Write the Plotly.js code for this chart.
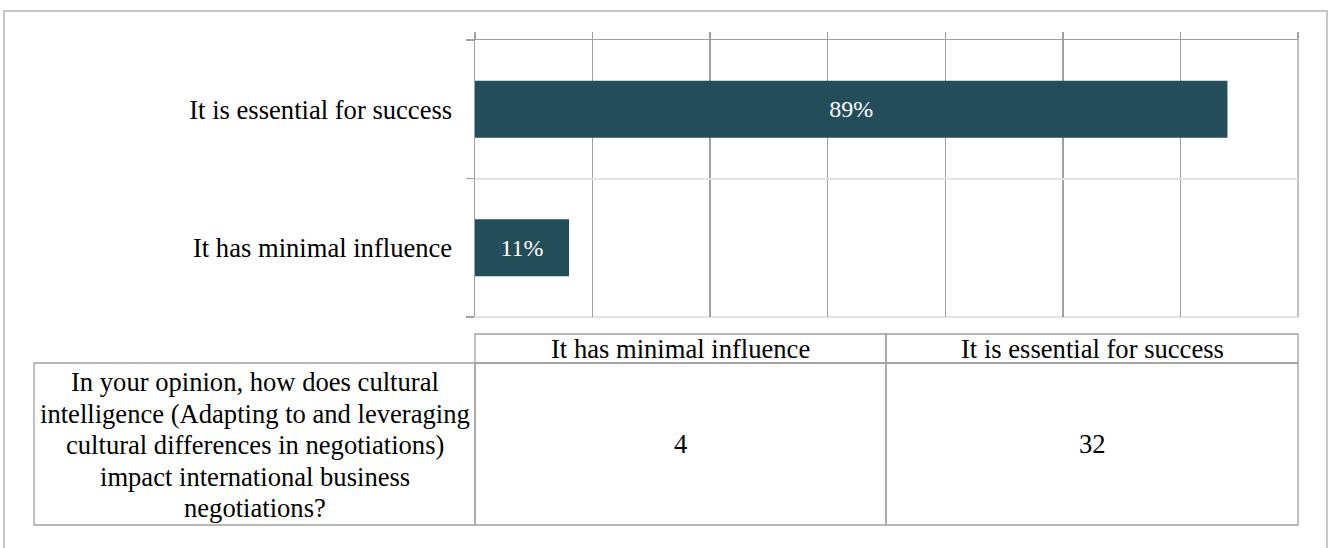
<!DOCTYPE html>
<html>
<head>
<meta charset="utf-8">
<script src="https://cdn.plot.ly/plotly-3.0.1.min.js"></script>
<style>
html,body{margin:0;padding:0;background:#fff;}
#chart{width:1333px;height:548px;}
</style>
</head>
<body>
<div id="chart"></div>
<script>
// ---- data ----
const categories = ["It has minimal influence", "It is essential for success"];
const counts = [4, 32];
const percentLabels = ["11%", "89%"];
const tableHeaders = ["It has minimal influence", "It is essential for success"];
const tableValues = [4, 32];
const questionLines = [
  "In your opinion, how does cultural",
  "intelligence (Adapting to and leveraging",
  "cultural differences in negotiations)",
  "impact international business",
  "negotiations?"
];

// ---- layout geometry (pixels) ----
const W = 1333, H = 548;
const L = 475, R = 1298, T = 40, B = 317;
const px = v => (v - L) / (R - L);
const py = v => (B - v) / (B - T);

const gray = "#a0a0a0";
const serif = "'Liberation Serif', 'Times New Roman', serif";
const FS = 26.6;

const tbl = {left: 34, mid: 475, split: 886, right: 1298, top: 334, hdrBottom: 363, bottom: 525};

const shapes = [];
function rect(x0, y0, x1, y1, color, w) {
  shapes.push({type: "rect", xref: "paper", yref: "paper",
    x0: px(x0), x1: px(x1), y0: py(y0), y1: py(y1),
    line: {color: color, width: w}, fillcolor: "rgba(0,0,0,0)", layer: "above"});
}
function vline(x, y0, y1, color, w, layer) {
  shapes.push({type: "line", xref: "paper", yref: "paper", x0: x, x1: x, y0: y0, y1: y1,
    line: {color: color, width: w}, layer: layer || "above"});
}
// outer frame
rect(4, 11, 1327, 560, "#b4b4b4", 1.5);
// bottom category boundary line
shapes.push({type: "line", xref: "paper", yref: "paper", x0: 0, x1: 1, y0: 0, y1: 0,
  line: {color: "#e3e3e3", width: 2}, layer: "below"});
// edge gridline / tick marks at the ends of the value axis
vline(1, 0, py(33), gray, 1.3, "below");
vline(0, 1, py(33), gray, 1.3, "above");
// table cells
rect(tbl.mid, tbl.top, tbl.split, tbl.hdrBottom, gray, 1.3);
rect(tbl.split, tbl.top, tbl.right, tbl.hdrBottom, gray, 1.3);
rect(tbl.left, tbl.hdrBottom, tbl.mid, tbl.bottom, gray, 1.3);
rect(tbl.mid, tbl.hdrBottom, tbl.split, tbl.bottom, gray, 1.3);
rect(tbl.split, tbl.hdrBottom, tbl.right, tbl.bottom, gray, 1.3);

const annotations = [];
function txt(x, y, s) {
  annotations.push({xref: "paper", yref: "paper", x: px(x), y: py(y), text: s,
    showarrow: false, xanchor: "center", yanchor: "middle",
    font: {family: serif, size: FS, color: "#000"}});
}
const colCenters = [(tbl.mid + tbl.split) / 2, (tbl.split + tbl.right) / 2];
tableHeaders.forEach((h, i) => txt(colCenters[i], (tbl.top + tbl.hdrBottom) / 2, h));
tableValues.forEach((v, i) => txt(colCenters[i], (tbl.hdrBottom + tbl.bottom) / 2, String(v)));
const lineH = 31.5;
const qMid = (tbl.hdrBottom + tbl.bottom) / 2 + 1;
questionLines.forEach((s, i) => txt((tbl.left + tbl.mid) / 2, qMid + (i - (questionLines.length - 1) / 2) * lineH, s));

const trace = {
  type: "bar", orientation: "h",
  y: categories, x: counts,
  text: percentLabels, textposition: "inside", insidetextanchor: "middle",
  textangle: 0, constraintext: "none",
  textfont: {family: serif, size: 24, color: "#ffffff"},
  marker: {color: "#244d5a", line: {width: 0}},
  width: 0.41, hoverinfo: "skip"
};

const layout = {
  width: W, height: H,
  margin: {l: L, r: W - R, t: T, b: H - B, pad: 0},
  paper_bgcolor: "#fff", plot_bgcolor: "#fff",
  showlegend: false,
  font: {family: serif, size: FS, color: "#000"},
  xaxis: {
    range: [0, 35], tick0: 0, dtick: 5, side: "top",
    showticklabels: false, ticks: "outside", ticklen: 7, tickcolor: gray, tickwidth: 1.3,
    showgrid: true, gridcolor: gray, gridwidth: 1.3,
    showline: true, linecolor: gray, linewidth: 1.5,
    zeroline: false, fixedrange: true, automargin: false
  },
  yaxis: {
    type: "category", categoryorder: "array", categoryarray: categories,
    tickson: "boundaries", ticks: "outside", ticklen: 8, tickcolor: gray, tickwidth: 1.3,
    showgrid: true, gridcolor: "#e3e3e3", gridwidth: 2,
    showline: true, linecolor: gray, linewidth: 1.5,
    zeroline: false, ticklabelstandoff: 16,
    tickfont: {family: serif, size: FS, color: "#000"},
    fixedrange: true, automargin: false
  },
  shapes: shapes,
  annotations: annotations
};

Plotly.newPlot("chart", [trace], layout, {displayModeBar: false, staticPlot: true});
</script>
</body>
</html>
